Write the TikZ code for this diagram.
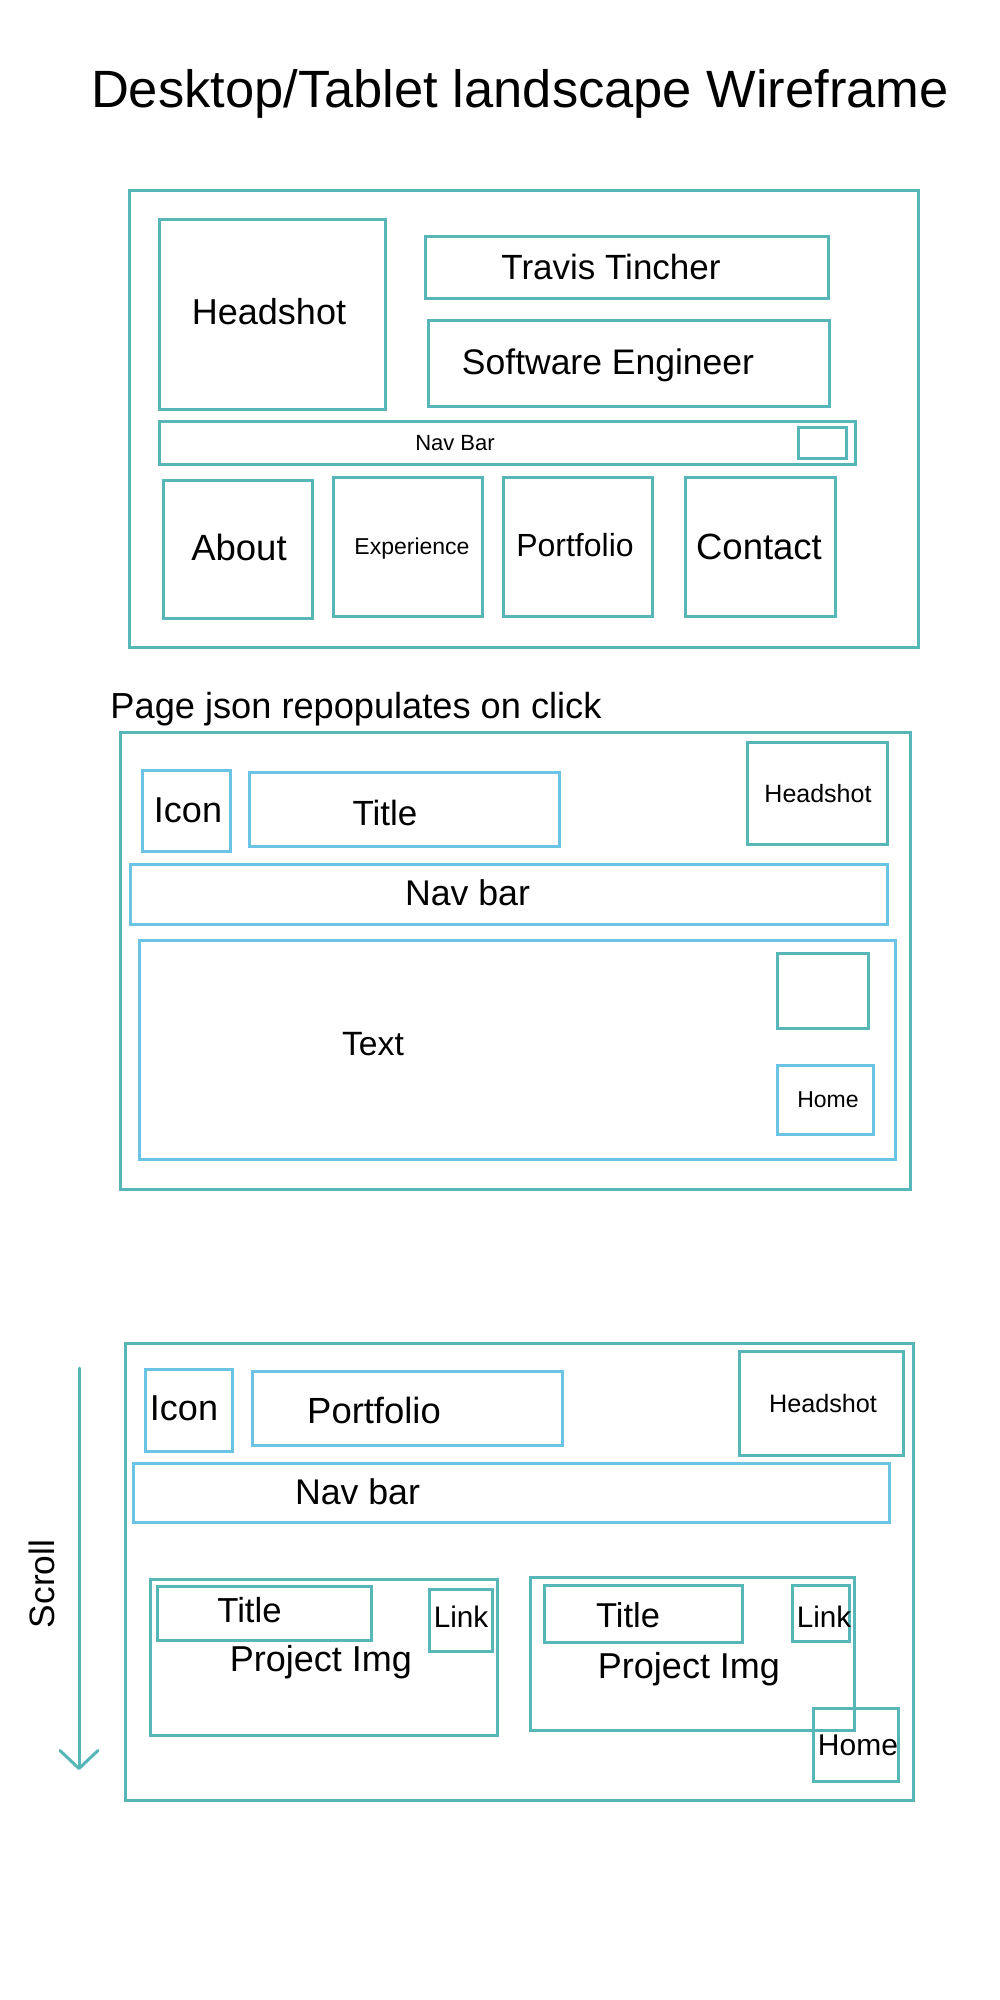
\documentclass[tikz,border=0pt]{standalone}
\usepackage{fontspec}
\setmainfont{Liberation Sans}
\usetikzlibrary{arrows.meta}
\definecolor{wfteal}{HTML}{57B6B7}
\definecolor{wfblue}{HTML}{6CC4E4}
\tikzset{
  tbox/.style={draw=wfteal, line width=3bp},
  bbox/.style={draw=wfblue, line width=3bp},
  lbl/.style={inner sep=0pt, font=\fontsize{#1bp}{#1bp}\selectfont,
              text height=0.72*#1bp, text depth=0pt}
}
\begin{document}
\begin{tikzpicture}[x=1bp, y=-1bp]
\useasboundingbox (0,0) rectangle (1000,2000);
\fill[white] (0,0) rectangle (1000,2000);

% heading
\node[lbl=52.5] (heading) at (520,89) {Desktop/Tablet landscape Wireframe};

% ---------- landing page ----------
\draw[tbox] (129.5,190.5) rectangle (918,647);
\draw[tbox] (159.5,219) rectangle (385.5,409);
\draw[tbox] (425,236.5) rectangle (828,298);
\draw[tbox] (428.5,320.5) rectangle (829.5,406);
\draw[tbox] (159.5,421) rectangle (855,464);
\draw[tbox] (798,427) rectangle (846,458);
\draw[tbox] (163.5,480) rectangle (312.5,618);
\draw[tbox] (333,477) rectangle (482,616);
\draw[tbox] (503,477) rectangle (652,616);
\draw[tbox] (685,477) rectangle (835,616);

\node[lbl=36] (hs1) at (269,312) {Headshot};
\node[lbl=35] (name) at (611,267) {Travis Tincher};
\node[lbl=35.5] (role) at (608,362) {Software Engineer};
\node[lbl=22] (nav1) at (455,443) {Nav Bar};
\node[lbl=36.5] (about) at (239,547) {About};
\node[lbl=23] (exp) at (412,546) {Experience};
\node[lbl=32] (port) at (575,545) {Portfolio};
\node[lbl=36.5] (contact) at (759,546) {Contact};

% ---------- content page ----------
\node[lbl=36.2] (note) at (356,705) {Page json repopulates on click};
\draw[tbox] (120.5,732.5) rectangle (910.5,1189.5);
\draw[bbox] (142.5,770) rectangle (230,851.5);
\draw[bbox] (249.5,772.5) rectangle (559.5,846);
\draw[tbox] (747.5,742.5) rectangle (887,844.5);
\draw[bbox] (130,864) rectangle (887,924.5);
\draw[bbox] (139.5,940.5) rectangle (895.5,1159);
\draw[tbox] (777.5,953.5) rectangle (868.5,1028.5);
\draw[bbox] (777.5,1065) rectangle (873.5,1134.5);

\node[lbl=36] (icon2) at (188,810) {Icon};
\node[lbl=35] (title2) at (385,813) {Title};
\node[lbl=25] (hs2) at (818,793) {Headshot};
\node[lbl=35.7] (nav2) at (467.5,893) {Nav bar};
\node[lbl=33.7] (text2) at (373,1043) {Text};
\node[lbl=23] (home2) at (828,1099) {Home};

% ---------- portfolio page ----------
\draw[tbox] (125.5,1343.5) rectangle (913.5,1800);
\draw[bbox] (145.5,1369) rectangle (232.5,1451);
\draw[bbox] (252.5,1371.5) rectangle (562.5,1445);
\draw[tbox] (739,1351.5) rectangle (903,1455.5);
\draw[bbox] (133.5,1463.5) rectangle (889.5,1522.5);
\draw[tbox] (150.5,1579.5) rectangle (497,1735);
\draw[tbox] (157.5,1586) rectangle (371.5,1640);
\draw[tbox] (429,1589.5) rectangle (492,1651);
\draw[tbox] (530,1577.5) rectangle (854.5,1730.5);
\draw[tbox] (544,1585) rectangle (742,1642);
\draw[tbox] (792.5,1585) rectangle (849.5,1641.5);
\draw[tbox] (813,1708.5) rectangle (898.5,1781.5);

\node[lbl=36] (icon3) at (184,1408) {Icon};
\node[lbl=36.4] (port3) at (374,1410) {Portfolio};
\node[lbl=25.2] (hs3) at (823,1403) {Headshot};
\node[lbl=35.7] (nav3) at (357.5,1492) {Nav bar};
\node[lbl=34.7] (ptitle1) at (249.5,1610) {Title};
\node[lbl=29.7] (plink1) at (461,1617) {Link};
\node[lbl=36] (pimg1) at (321,1659) {Project Img};
\node[lbl=34.5] (ptitle2) at (628,1615) {Title};
\node[lbl=29.7] (plink2) at (824,1617) {Link};
\node[lbl=36] (pimg2) at (689,1666) {Project Img};
\node[lbl=30] (home3) at (858,1745) {Home};

% scroll indicator
\node[lbl=35.3, rotate=90] (scroll) at (41.5,1584) {Scroll};
\coordinate (scrolltop) at (79,1368);
\coordinate (scrollend) at (79,1770);
\draw[draw=wfteal, line width=3bp, line cap=round,
      -{Straight Barb[length=18bp, width=38bp, round]}] (scrolltop) -- (scrollend);
\end{tikzpicture}
\end{document}
